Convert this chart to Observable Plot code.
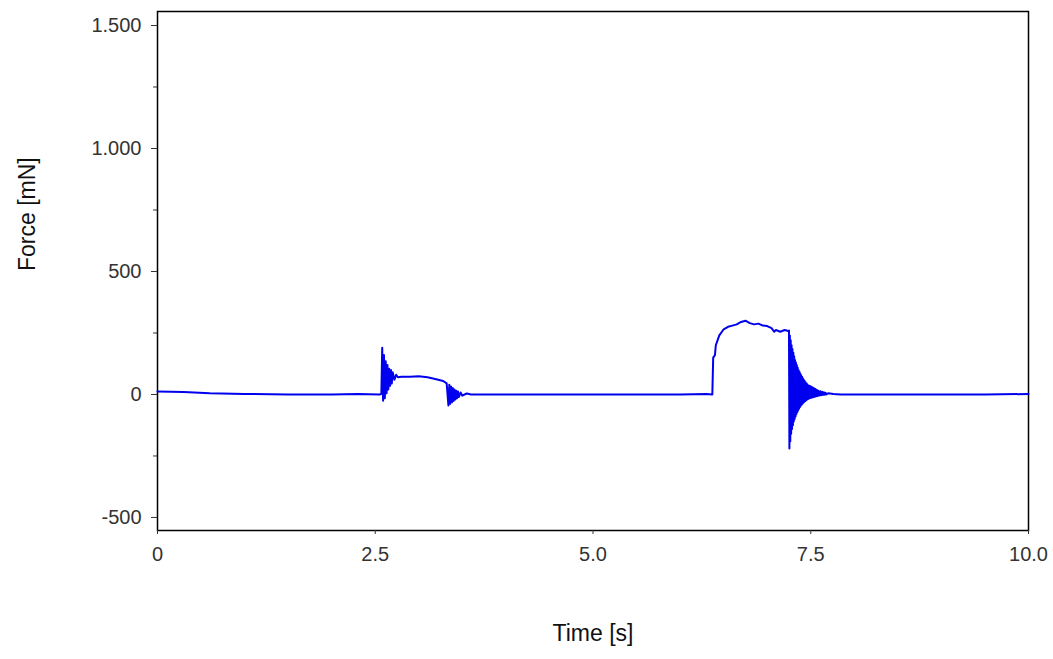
<!DOCTYPE html>
<html>
<head>
<meta charset="utf-8">
<script src="https://cdn.jsdelivr.net/npm/d3@7"></script>
<script src="https://cdn.jsdelivr.net/npm/@observablehq/plot@0.6"></script>
<style>
  body { margin: 0; background: #fff; }
  #chart { font-family: Arial, "Liberation Sans", sans-serif; }
</style>
</head>
<body>
<div id="chart"></div>
<script>
// signal: time [s] and force [mN]
const time = [
  0, 0.3, 0.6, 1.0, 1.5, 2.0, 2.3, 2.55, 2.57,
  2.58, 2.59, 2.6, 2.61, 2.62, 2.63, 2.64, 2.65, 2.66, 2.67, 2.68, 2.69, 2.7, 2.72, 2.74, 2.76, 2.8,
  2.9, 3.0, 3.1, 3.2, 3.28, 3.32,
  3.34, 3.35, 3.36, 3.37, 3.38, 3.39, 3.4, 3.41, 3.42, 3.43, 3.44, 3.45, 3.46, 3.48, 3.5, 3.55, 3.6, 3.7,
  4.0, 4.5, 5.0, 5.5, 6.0, 6.3, 6.37,
  6.38, 6.4, 6.41, 6.43, 6.45, 6.48, 6.5, 6.55, 6.6, 6.65, 6.7, 6.75, 6.8, 6.85, 6.9, 6.95, 7.0, 7.05, 7.08, 7.1, 7.15, 7.2, 7.24,
  7.25, 7.255, 7.26, 7.265, 7.27, 7.275, 7.28, 7.285, 7.29, 7.295, 7.3, 7.305, 7.31, 7.315, 7.32, 7.325,
  7.33, 7.335, 7.34, 7.345, 7.35, 7.355, 7.36, 7.365, 7.37, 7.375, 7.38, 7.385, 7.39, 7.395, 7.4, 7.405,
  7.41, 7.415, 7.42, 7.425, 7.43, 7.435, 7.44, 7.445, 7.45, 7.455, 7.46, 7.465, 7.47, 7.475, 7.48, 7.485,
  7.49, 7.495, 7.5, 7.505, 7.51, 7.515, 7.52, 7.525, 7.53, 7.535, 7.54, 7.545, 7.55, 7.555, 7.56, 7.565,
  7.57, 7.575, 7.58, 7.585, 7.59, 7.6, 7.61, 7.62, 7.63, 7.64, 7.65, 7.66, 7.67, 7.68, 7.7, 7.72, 7.74, 7.76, 7.8, 7.85, 7.9,
  8.0, 8.5, 9.0, 9.5, 10.0
];
const force = [
  12, 10, 5, 2, 0, 0, 2, 0, 2,
  190, -25, 160, -15, 135, 5, 120, 20, 105, 35, 100, 45, 90, 60, 80, 70, 72,
  72, 74, 70, 62, 55, 45,
  -45, 40, -38, 32, -32, 26, -26, 20, -20, 15, -15, 12, -10, 8, -5, 4, 0, 0,
  0, 0, 0, 0, 0, 2, 0,
  150, 160, 200, 220, 240, 255, 265, 275, 280, 285, 295, 300, 290, 285, 288, 280, 278, 270, 255, 262, 255, 262, 258,
  260, -220, 240, -190, 220, -160, 200, -140, 185, -125, 170, -110, 155, -100, 140, -90,
  130, -80, 120, -72, 110, -65, 100, -58, 92, -52, 85, -46, 78, -42, 72, -38,
  66, -34, 60, -30, 55, -27, 50, -24, 46, -21, 42, -19, 38, -17, 35, -15,
  34, -14, 32, -13, 30, -12, 28, -11, 26, -10, 24, -9, 22, -8, 20, -7,
  18, -6, 16, -5, 14, -4, 13, -3, 11, -2, 9, -1, 7, 0, 5, 4, 3, 2, 1, 0, 0,
  0, 0, 0, 0, 2
];
const yTicks = [-500, 0, 500, 1000, 1500];
const yMinor = [-250, 250, 750, 1250];
const xTicks = [0, 2.5, 5.0, 7.5, 10.0];

const data = time.map((t, i) => ({t, f: force[i]}));
const fmtY = d => String(d).replace(/(\d)(\d{3})$/, "$1.$2");

const chart = Plot.plot({
  width: 1053,
  height: 659,
  marginLeft: 157,
  marginRight: 25,
  marginTop: 11,
  marginBottom: 129,
  style: {fontSize: "20px", fontFamily: "Arial, 'Liberation Sans', sans-serif", color: "#333"},
  x: {domain: [0, 10]},
  y: {domain: [-553, 1557]},
  marks: [
    Plot.frame({stroke: "#000", strokeWidth: 1.5}),
    Plot.line(data, {x: "t", y: "f", stroke: "#0000ee", strokeWidth: 2}),
    Plot.axisY(yTicks, {tickSize: 6, tickFormat: fmtY, tickPadding: 10, label: null}),
    Plot.axisY(yMinor, {tickSize: 4, tickFormat: () => "", label: null}),
    Plot.axisX(xTicks, {tickSize: 4, tickFormat: d => d === 0 ? "0" : d.toFixed(1), tickPadding: 12, label: null}),
    Plot.text(["Time [s]"], {frameAnchor: "bottom", dy: 110, fontSize: 23, fill: "#111"}),
    Plot.text(["Force [mN]"], {frameAnchor: "left", dx: -130, rotate: -90, fontSize: 23, fill: "#111"})
  ]
});
document.getElementById("chart").append(chart);
</script>
</body>
</html>
